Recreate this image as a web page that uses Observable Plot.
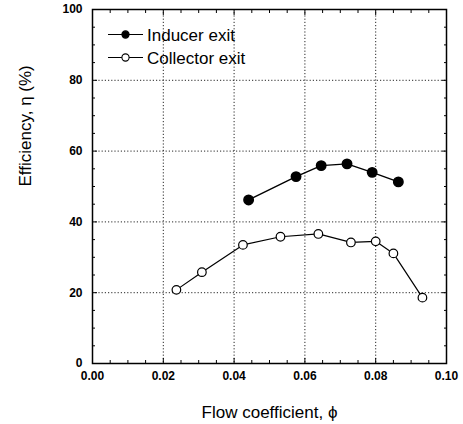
<!DOCTYPE html>
<html><head><meta charset="utf-8">
<script src="https://cdn.jsdelivr.net/npm/d3@7"></script>
<script src="https://cdn.jsdelivr.net/npm/@observablehq/plot@0.6"></script>
<style>body{margin:0;background:#fff} svg{font-family:"Liberation Sans",Arial,sans-serif}</style>
</head><body><div id="chart"></div>
<script>
const seriesNames = ["Inducer exit", "Collector exit"];
const inducerPhi = [0.0441, 0.0575, 0.0646, 0.0719, 0.0790, 0.0864];
const inducerEff = [46.2, 52.8, 55.9, 56.4, 54.0, 51.3];
const collectorPhi = [0.0237, 0.0309, 0.0425, 0.0531, 0.0638, 0.0730, 0.0800, 0.0850, 0.0932];
const collectorEff = [20.8, 25.8, 33.5, 35.8, 36.6, 34.2, 34.5, 31.1, 18.6];
const xTicks = [0, 0.02, 0.04, 0.06, 0.08, 0.10];
const xTickLabels = ["0.00", "0.02", "0.04", "0.06", "0.08", "0.10"];
const xMinor = [0.005, 0.01, 0.015, 0.025, 0.03, 0.035, 0.045, 0.05, 0.055, 0.065, 0.07, 0.075, 0.085, 0.09, 0.095];
const yTicks = [0, 20, 40, 60, 80, 100];
const yTickLabels = ["0", "20", "40", "60", "80", "100"];
const yMinor = [5, 10, 15, 25, 30, 35, 45, 50, 55, 65, 70, 75, 85, 90, 95];
const xTitle = "Flow coefficient, \u03D5";
const yTitle = "Efficiency, \u03B7 (%)";

const inducer = inducerPhi.map((x, i) => ({x, y: inducerEff[i]}));
const collector = collectorPhi.map((x, i) => ({x, y: collectorEff[i]}));
const xfmt = d => xTickLabels[xTicks.indexOf(d)];
const yfmt = d => yTickLabels[yTicks.indexOf(d)];
const none = () => "";
const grid = {stroke: "black", strokeOpacity: 0.85, strokeWidth: 1, strokeDasharray: "1.2,2"};
const tickStyle = {fontSize: 12, fontWeight: "bold", label: null};

const chart = Plot.plot({
  width: 463, height: 424,
  marginLeft: 92, marginRight: 17, marginTop: 9, marginBottom: 61,
  x: {domain: [0, 0.1]},
  y: {domain: [0, 100]},
  style: {fontFamily: "'Liberation Sans', Arial, sans-serif", color: "black", background: "white"},
  marks: [
    Plot.gridX(xTicks.slice(1, -1), grid),
    Plot.gridY(yTicks.slice(1, -1), grid),
    Plot.axisX(xMinor, {anchor: "bottom", tickSize: -3, tickFormat: none, label: null}),
    Plot.axisX(xTicks, {anchor: "bottom", tickSize: -5, tickPadding: 13, tickFormat: xfmt, ...tickStyle}),
    Plot.axisX(xMinor, {anchor: "top", tickSize: -3, tickFormat: none, label: null}),
    Plot.axisX(xTicks, {anchor: "top", tickSize: -5, tickFormat: none, label: null}),
    Plot.axisY(yMinor, {anchor: "left", tickSize: -3, tickFormat: none, label: null}),
    Plot.axisY(yTicks, {anchor: "left", tickSize: -5, tickPadding: 15, tickFormat: yfmt, ...tickStyle}),
    Plot.axisY(yMinor, {anchor: "right", tickSize: -3, tickFormat: none, label: null}),
    Plot.axisY(yTicks, {anchor: "right", tickSize: -5, tickFormat: none, label: null}),
    Plot.frame({stroke: "black", strokeWidth: 1.5}),
    Plot.text([xTitle], {frameAnchor: "bottom", dy: 54, fontSize: 17, text: d => d}),
    Plot.text([yTitle], {frameAnchor: "left", rotate: -90, dx: -67, fontSize: 17, text: d => d}),
    Plot.line(inducer, {x: "x", y: "y", stroke: "black", strokeWidth: 1.4}),
    Plot.dot(inducer, {x: "x", y: "y", r: 4.7, fill: "black", stroke: "black"}),
    Plot.line(collector, {x: "x", y: "y", stroke: "black", strokeWidth: 1.2}),
    Plot.dot(collector, {x: "x", y: "y", r: 4.3, fill: "white", stroke: "black", strokeWidth: 1.2})
  ]
});
document.getElementById("chart").appendChild(chart);

// legend (upper-left, inside the frame)
const svg = d3.select(chart);
const leg = svg.append("g").attr("font-size", 17).attr("text-anchor", "start")
  .attr("font-family", "'Liberation Sans', Arial, sans-serif");
seriesNames.forEach((name, i) => {
  const cy = 34.5 + i * 23;
  const g = leg.append("g").attr("transform", `translate(0,${cy})`);
  g.append("line").attr("x1", 108).attr("x2", 143).attr("y1", 0).attr("y2", 0).attr("stroke", "black").attr("stroke-width", 1.1);
  g.append("circle").attr("cx", 125.5).attr("cy", 0).attr("r", 3.6)
    .attr("fill", i === 0 ? "black" : "white").attr("stroke", "black").attr("stroke-width", 1.1);
  g.append("text").attr("x", 147).attr("y", 0).attr("dy", "0.36em").attr("fill", "black").text(name);
});
</script>
</body></html>
